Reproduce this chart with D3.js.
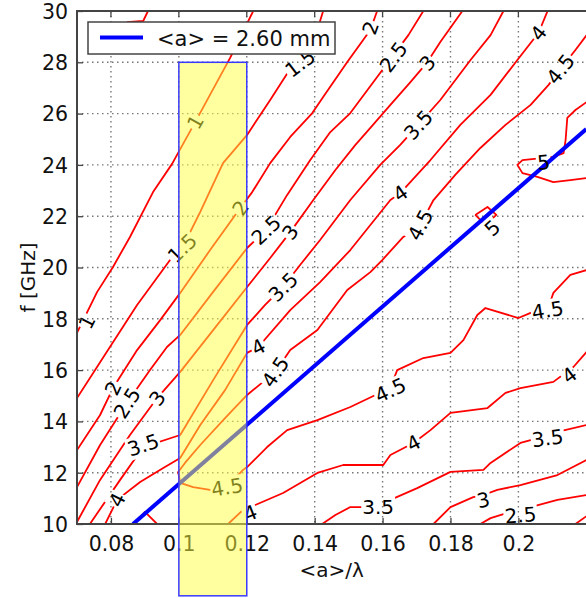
<!DOCTYPE html>
<html>
<head>
<meta charset="utf-8">
<script src="https://cdn.jsdelivr.net/npm/d3@7"></script>
<style>
  body { margin: 0; background: #fff; }
  svg { display: block; font-family: "DejaVu Sans", sans-serif; }
</style>
</head>
<body>
<div id="chart"></div>
<script>
// contour lines, points are [<a>/lambda, f in GHz]
var lvl05 = [[0.0847,29.57],[0.0895,29.61],[0.0909,30.0]];
var lvl1 = [[0.0700,17.45],[0.0759,19.04],[0.0806,20.02],[0.0856,21.19],[0.0924,22.94],[0.0980,24.04],[0.1048,25.67],[0.1151,28.17],[0.1219,30.0]];
var lvl15 = [[0.0700,14.91],[0.0797,16.90],[0.0877,18.54],[0.0974,20.29],[0.1010,20.76],[0.1063,22.17],[0.1130,24.07],[0.1201,25.17],[0.1269,26.53],[0.1322,27.62],[0.1357,27.97],[0.1396,28.75],[0.1425,30.0]];
var lvl2 = [[0.0700,12.88],[0.0768,14.25],[0.0806,15.30],[0.0877,16.78],[0.0945,17.95],[0.1004,19.01],[0.1092,20.68],[0.1181,22.32],[0.1216,22.94],[0.1269,24.07],[0.1328,25.09],[0.1393,26.02],[0.1425,26.65],[0.1496,28.01],[0.1564,29.26],[0.1584,30.0]];
var lvl25 = [[0.0700,11.44],[0.0768,13.08],[0.0847,14.72],[0.0915,16.00],[0.0965,16.90],[0.1004,17.37],[0.1101,19.05],[0.1201,20.76],[0.1257,21.46],[0.1319,22.83],[0.1387,24.19],[0.1446,25.28],[0.1505,26.02],[0.1584,27.43],[0.1632,28.28],[0.1676,29.06],[0.1720,30.0]];
var lvl3 = [[0.0700,10.08],[0.0768,11.72],[0.0856,13.47],[0.0936,14.91],[0.1004,15.93],[0.1101,17.56],[0.1201,19.24],[0.1269,20.37],[0.1328,21.38],[0.1396,22.63],[0.1461,23.80],[0.1520,24.78],[0.1564,25.44],[0.1623,26.34],[0.1682,27.23],[0.1732,28.01],[0.1770,28.79],[0.1835,30.0]];
var lvl35 = [[0.0738,10.00],[0.0827,11.72],[0.0895,13.00],[0.1004,13.47],[0.1101,15.61],[0.1201,17.76],[0.1254,18.54],[0.1307,19.24],[0.1357,20.10],[0.1416,21.07],[0.1505,22.63],[0.1593,24.00],[0.1652,24.78],[0.1705,25.56],[0.1770,26.53],[0.1859,28.09],[0.1918,29.06],[0.1956,30.0]];
var lvl4 = [[0.0783,10.00],[0.0818,10.94],[0.0886,11.64],[0.0954,12.18],[0.1004,12.57],[0.1063,13.86],[0.1136,15.22],[0.1201,16.67],[0.1234,16.90],[0.1328,18.34],[0.1416,19.43],[0.1505,20.68],[0.1623,22.63],[0.1652,22.90],[0.1741,24.19],[0.1829,25.56],[0.1918,26.73],[0.1997,28.09],[0.2059,29.14],[0.2086,30.0]];
var lvl45 = [[0.2201,29.06],[0.2168,28.48],[0.2124,27.74],[0.2089,27.12],[0.2036,26.34],[0.1962,25.56],[0.1888,24.66],[0.1814,23.61],[0.1750,22.63],[0.1711,21.66],[0.1661,21.19],[0.1599,20.29],[0.1564,19.82],[0.1496,19.12],[0.1408,17.56],[0.1328,16.78],[0.1284,15.93],[0.1201,15.03],[0.1136,14.13],[0.1063,13.08],[0.1018,12.38],[0.0998,12.03],[0.1004,11.60],[0.1042,11.44],[0.1092,11.33],[0.1142,11.44],[0.1189,12.11],[0.1201,12.22],[0.1260,13.00],[0.1319,13.66],[0.1408,14.05],[0.1505,14.56],[0.1579,15.03],[0.1623,15.30],[0.1643,16.00],[0.1720,16.47],[0.1800,16.67],[0.1838,17.17],[0.1879,18.15],[0.1903,18.42],[0.2000,18.03],[0.2036,18.23],[0.2086,18.34],[0.2103,19.01],[0.2153,19.71],[0.2201,19.90]];
var lvl45foot = [[0.0880,10.16],[0.0900,10.47],[0.0936,10.0]];
var lvl4low = [[0.1145,10.00],[0.1189,10.55],[0.1225,10.74],[0.1307,11.21],[0.1408,11.99],[0.1484,12.30],[0.1602,12.30],[0.1623,12.69],[0.1691,13.16],[0.1741,13.66],[0.1800,14.33],[0.1909,14.52],[0.1962,15.11],[0.2006,15.30],[0.2103,15.54],[0.2162,16.12],[0.2201,16.71]];
var lvl35low = [[0.1422,10.00],[0.1461,10.35],[0.1505,10.66],[0.1587,10.66],[0.1623,10.94],[0.1702,11.40],[0.1800,12.03],[0.1897,12.11],[0.1918,12.38],[0.2006,13.16],[0.2036,13.27],[0.2086,13.35],[0.2115,13.59],[0.2201,13.86]];
var lvl3low = [[0.1750,10.00],[0.1800,10.66],[0.1867,11.05],[0.1897,11.13],[0.1938,11.33],[0.2006,11.52],[0.2115,11.91],[0.2201,12.50]];
var lvl25low = [[0.1888,10.00],[0.1918,10.23],[0.1968,10.43],[0.2006,10.47],[0.2036,10.66],[0.2115,10.94],[0.2201,11.13]];
var lvl2low = [[0.2168,10.00],[0.2201,10.31]];
var lvl5a = [[0.1873,22.05],[0.1909,22.36],[0.1935,22.05],[0.1903,21.66],[0.1873,22.05]];
var lvl5b = [[0.2201,26.45],[0.2168,26.14],[0.2144,25.83],[0.2139,24.97],[0.2133,24.46],[0.2103,24.31],[0.2012,24.19],[0.1997,24.00],[0.2012,23.68],[0.2056,23.53],[0.2103,23.33],[0.2153,23.41],[0.2201,23.49]];

// contour labels: [level, <a>/lambda, f]
var labels = [
  [1, 0.0729, 17.88], [1, 0.1048, 25.67],
  [1.5, 0.1010, 20.76], [1.5, 0.1357, 27.97],
  [2, 0.0806, 15.30], [2, 0.1181, 22.32], [2, 0.1564, 29.34],
  [2.5, 0.0847, 14.72], [2.5, 0.1257, 21.46], [2.5, 0.1632, 28.21], [2.5, 0.2006, 10.35],
  [3, 0.0936, 14.91], [3, 0.1328, 21.38], [3, 0.1732, 27.97], [3, 0.1897, 10.94],
  [3.5, 0.0895, 13.08], [3.5, 0.1307, 19.24], [3.5, 0.1705, 25.56], [3.5, 0.1587, 10.66], [3.5, 0.2086, 13.35],
  [4, 0.0818, 10.94], [4, 0.1234, 16.90], [4, 0.1652, 22.90], [4, 0.2059, 29.14], [4, 0.1210, 10.43], [4, 0.1691, 13.16], [4, 0.2150, 15.80],
  [4.5, 0.2124, 27.74], [4.5, 0.1711, 21.66], [4.5, 0.1284, 15.93], [4.5, 0.1142, 11.44], [4.5, 0.1623, 15.22], [4.5, 0.2086, 18.34],
  [5, 0.1923, 21.54], [5, 0.2074, 24.11]
];

var xTicks = [0.08, 0.1, 0.12, 0.14, 0.16, 0.18, 0.2];
var yTicks = [10, 12, 14, 16, 18, 20, 22, 24, 26, 28, 30];
var bluePts = [[0.0865, 10], [0.22, 25.4]];   // <a> = 2.60 mm
var bandX = [0.1, 0.12];
var bandY = [7.2, 28];
var legendText = "<a> = 2.60 mm";

var contours = [
  {level: 0.5, pts: lvl05}, {level: 1, pts: lvl1}, {level: 1.5, pts: lvl15},
  {level: 2, pts: lvl2}, {level: 2.5, pts: lvl25}, {level: 3, pts: lvl3},
  {level: 3.5, pts: lvl35}, {level: 4, pts: lvl4}, {level: 4.5, pts: lvl45},
  {level: 4.5, pts: lvl45foot}, {level: 4, pts: lvl4low}, {level: 3.5, pts: lvl35low},
  {level: 3, pts: lvl3low}, {level: 2.5, pts: lvl25low}, {level: 2, pts: lvl2low},
  {level: 5, pts: lvl5a}, {level: 5, pts: lvl5b}
];

var W = 586, H = 598;
var pL = 77, pR = 586.3, pT = 11, pB = 524;

var x = d3.scaleLinear().domain([0.07, 0.22]).range([pL, pR]);
var y = d3.scaleLinear().domain([10, 30]).range([pB, pT]);

var svg = d3.select("#chart").append("svg")
  .attr("width", W)
  .attr("height", H);

var defs = svg.append("defs");
defs.append("clipPath").attr("id", "plotClip")
  .append("rect")
    .attr("x", pL).attr("y", pT)
    .attr("width", pR - pL).attr("height", pB - pT);

var mask = defs.append("mask").attr("id", "labelGap")
  .attr("maskUnits", "userSpaceOnUse")
  .attr("x", 0).attr("y", 0).attr("width", W).attr("height", H);
mask.append("rect").attr("width", W).attr("height", H).attr("fill", "white");

// grid
svg.append("g")
  .selectAll("line")
  .data(xTicks)
  .enter().append("line")
    .attr("x1", function(d) { return x(d); })
    .attr("x2", function(d) { return x(d); })
    .attr("y1", pT).attr("y2", pB)
    .attr("stroke", "#777").attr("stroke-width", 1.4)
    .attr("stroke-dasharray", "1.5,3.5");
svg.append("g")
  .selectAll("line")
  .data(yTicks.slice(1, -1))
  .enter().append("line")
    .attr("y1", function(d) { return y(d); })
    .attr("y2", function(d) { return y(d); })
    .attr("x1", pL).attr("x2", W)
    .attr("stroke", "#777").attr("stroke-width", 1.4)
    .attr("stroke-dasharray", "1.5,3.5");

// contours
var line = d3.line()
  .x(function(d) { return x(d[0]); })
  .y(function(d) { return y(d[1]); });

svg.append("g")
  .attr("clip-path", "url(#plotClip)")
  .attr("mask", "url(#labelGap)")
  .selectAll("path")
  .data(contours)
  .enter().append("path")
    .attr("d", function(d) { return line(d.pts); })
    .attr("fill", "none")
    .attr("stroke", "#ff0000")
    .attr("stroke-width", 1.8)
    .attr("stroke-linejoin", "round");

// blue line
svg.append("path")
  .attr("clip-path", "url(#plotClip)")
  .attr("d", line(bluePts))
  .attr("fill", "none")
  .attr("stroke", "#0000ff")
  .attr("stroke-width", 4);

// label angle follows the nearest piece of its contour
function labelAngle(level, px, py) {
  var best = Infinity, ang = 0;
  contours.filter(function(c) { return c.level === level; }).forEach(function(c) {
    for (var i = 0; i < c.pts.length - 1; i++) {
      var ax = x(c.pts[i][0]), ay = y(c.pts[i][1]);
      var bx = x(c.pts[i + 1][0]), by = y(c.pts[i + 1][1]);
      var vx = bx - ax, vy = by - ay;
      var t = ((px - ax) * vx + (py - ay) * vy) / (vx * vx + vy * vy || 1);
      t = Math.max(0, Math.min(1, t));
      var dx = ax + t * vx - px, dy = ay + t * vy - py;
      var dd = dx * dx + dy * dy;
      if (dd < best) { best = dd; ang = Math.atan2(vy, vx) * 180 / Math.PI; }
    }
  });
  if (ang > 90) ang -= 180;
  if (ang < -90) ang += 180;
  return ang;
}

var lab = svg.append("g")
  .selectAll("text")
  .data(labels)
  .enter().append("text")
    .attr("transform", function(d) {
      var px = x(d[1]), py = y(d[2]);
      return "translate(" + px + "," + py + ") rotate(" + labelAngle(d[0], px, py) + ")";
    })
    .attr("text-anchor", "middle")
    .attr("dy", "0.36em")
    .attr("font-size", 20)
    .attr("fill", "#000")
    .text(function(d) { return String(d[0]); });

lab.each(function(d) {
  var bb = this.getBBox();
  mask.append("rect")
    .attr("transform", d3.select(this).attr("transform"))
    .attr("x", bb.x - 1).attr("y", bb.y + 1)
    .attr("width", bb.width + 2).attr("height", bb.height - 2)
    .attr("fill", "black");
});

// axes
var yAxis = d3.axisLeft(y).tickValues(yTicks).tickSizeInner(-6).tickSizeOuter(0).tickPadding(9);
var xAxis = d3.axisBottom(x).tickValues(xTicks).tickSizeInner(-6).tickSizeOuter(0).tickPadding(12)
  .tickFormat(function(d) { return String(+d.toFixed(2)); });

var gy = svg.append("g").attr("transform", "translate(" + pL + ",0)").call(yAxis);
var gx = svg.append("g").attr("transform", "translate(0," + pB + ")").call(xAxis);
[gx, gy].forEach(function(g) {
  g.select(".domain").remove();
  g.attr("font-family", "DejaVu Sans, sans-serif").attr("font-size", 20.5);
  g.selectAll(".tick line").attr("stroke", "#444").attr("stroke-width", 1.3);
  g.selectAll(".tick text").attr("fill", "#111");
});
gy.selectAll(".tick text").attr("dy", "0.36em");

// ticks on the top edge
svg.append("g")
  .selectAll("line")
  .data(xTicks)
  .enter().append("line")
    .attr("x1", function(d) { return x(d); })
    .attr("x2", function(d) { return x(d); })
    .attr("y1", pT).attr("y2", pT + 6)
    .attr("stroke", "#444").attr("stroke-width", 1.3);

// frame
svg.append("path")
  .attr("d", "M" + W + "," + pT + "H" + pL + "V" + pB + "H" + W)
  .attr("fill", "none")
  .attr("stroke", "#444")
  .attr("stroke-width", 2);

// axis titles
svg.append("text")
  .attr("transform", "translate(35," + ((pT + pB) / 2 + 10) + ") rotate(-90)")
  .attr("text-anchor", "middle")
  .attr("font-size", 20)
  .attr("fill", "#111")
  .text("f [GHz]");

svg.append("text")
  .attr("x", (pL + pR) / 2)
  .attr("y", 577)
  .attr("text-anchor", "middle")
  .attr("font-size", 20)
  .attr("fill", "#111")
  .text("<a>/λ");

// legend
var leg = svg.append("g");
leg.append("rect")
  .attr("x", 88).attr("y", 22).attr("width", 247).attr("height", 32)
  .attr("fill", "#fff").attr("stroke", "#444").attr("stroke-width", 1.5);
leg.append("line")
  .attr("x1", 100).attr("x2", 143).attr("y1", 37.5).attr("y2", 37.5)
  .attr("stroke", "#0000ff").attr("stroke-width", 4);
leg.append("text")
  .attr("x", 157).attr("y", 46)
  .attr("font-size", 21)
  .attr("fill", "#111")
  .text(legendText);

// highlighted band
svg.append("rect")
  .attr("x", x(bandX[0]))
  .attr("y", y(bandY[1]))
  .attr("width", x(bandX[1]) - x(bandX[0]))
  .attr("height", y(bandY[0]) - y(bandY[1]))
  .attr("fill", "#ffff40")
  .attr("fill-opacity", 0.5)
  .attr("stroke", "#3a3aff")
  .attr("stroke-width", 1.5);
</script>
</body>
</html>
